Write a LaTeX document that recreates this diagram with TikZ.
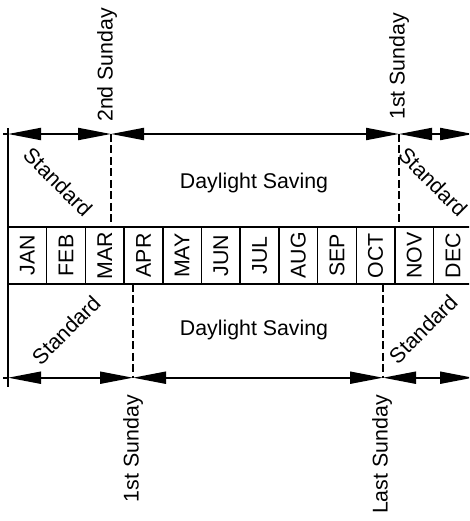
\documentclass[tikz,border=0pt]{standalone}
\usepackage{fontspec}
\setmainfont{Liberation Sans}
\usetikzlibrary{arrows.meta}
\begin{document}
\begin{tikzpicture}[x=0.75pt,y=-0.75pt,
  lbl/.style={font=\fontsize{16}{19}\selectfont, inner sep=0pt},
  solidline/.style={line width=1.5pt},
  cellline/.style={line width=1.1pt},
  dashline/.style={line width=1.5pt, dash pattern=on 6pt off 2.6pt},
  dimarrow/.style={line width=1.5pt,
    {Triangle[length=24.75pt,width=9pt]}-{Triangle[length=24.75pt,width=9pt]}}]
\clip (0,0) rectangle (469,521);
% key points
\coordinate (vtop) at (8,128);
\coordinate (vbot) at (8,387);
\coordinate (ta) at (3,134);
\coordinate (t0) at (8,134);
\coordinate (t1) at (111,134);
\coordinate (t2) at (399,134);
\coordinate (t3) at (473,134);
\coordinate (ba) at (3,377.7);
\coordinate (b0) at (8,377.7);
\coordinate (b1) at (133,377.7);
\coordinate (b2) at (383,377.7);
\coordinate (b3) at (473,377.7);
\coordinate (rt0) at (8,227);
\coordinate (rt1) at (480,227);
\coordinate (rb0) at (8,284);
\coordinate (rb1) at (480,284);
\coordinate (d1t) at (111,227);
\coordinate (d2t) at (399,227);
\coordinate (d1b) at (133,284);
\coordinate (d2b) at (383,284);
% left vertical line
\draw[solidline] (vtop) -- (vbot);
% top dimension line
\draw[solidline] (ta) -- (t0);
\draw[dimarrow] (t0) -- (t1);
\draw[dimarrow] (t1) -- (t2);
\draw[dimarrow] (t2) -- (t3);
% bottom dimension line
\draw[solidline] (ba) -- (b0);
\draw[dimarrow] (b0) -- (b1);
\draw[dimarrow] (b1) -- (b2);
\draw[dimarrow] (b2) -- (b3);
% dashed lines
\draw[dashline] (t1) -- (d1t);
\draw[dashline] (t2) -- (d2t);
\draw[dashline] (d1b) -- (b1);
\draw[dashline] (d2b) -- (b2);
% month row
\draw[solidline] (rt0) -- (rt1);
\draw[solidline] (rb0) -- (rb1);
\foreach \i in {1,...,11} {
  \draw[cellline] ({8+38.7*\i},227) -- ({8+38.7*\i},284);
}
\foreach \m [count=\i from 0] in {JAN,FEB,MAR,APR,MAY,JUN,JUL,AUG,SEP,OCT,NOV,DEC} {
  \node[lbl, rotate=90] (m\i) at ({8+38.7*\i+19.35},255.5) {\m};
}
% region labels
\node[lbl] (dstop) at (254,183) {Daylight Saving};
\node[lbl] (dsbot) at (254,330) {Daylight Saving};
\node[lbl, rotate=-45] (stl) at (58,182) {Standard};
\node[lbl, rotate=-45] (str) at (433,182) {Standard};
\node[lbl, rotate=45] (sbl) at (66,330) {Standard};
\node[lbl, rotate=45] (sbr) at (423,329) {Standard};
% Sunday labels
\node[lbl, rotate=90, anchor=west] (s1) at (107,122) {2nd Sunday};
\node[lbl, rotate=90, anchor=west] (s2) at (399,120) {1st Sunday};
\node[lbl, rotate=90, anchor=east] (s3) at (133,395) {1st Sunday};
\node[lbl, rotate=90, anchor=east] (s4) at (382,395) {Last Sunday};
\end{tikzpicture}
\end{document}
